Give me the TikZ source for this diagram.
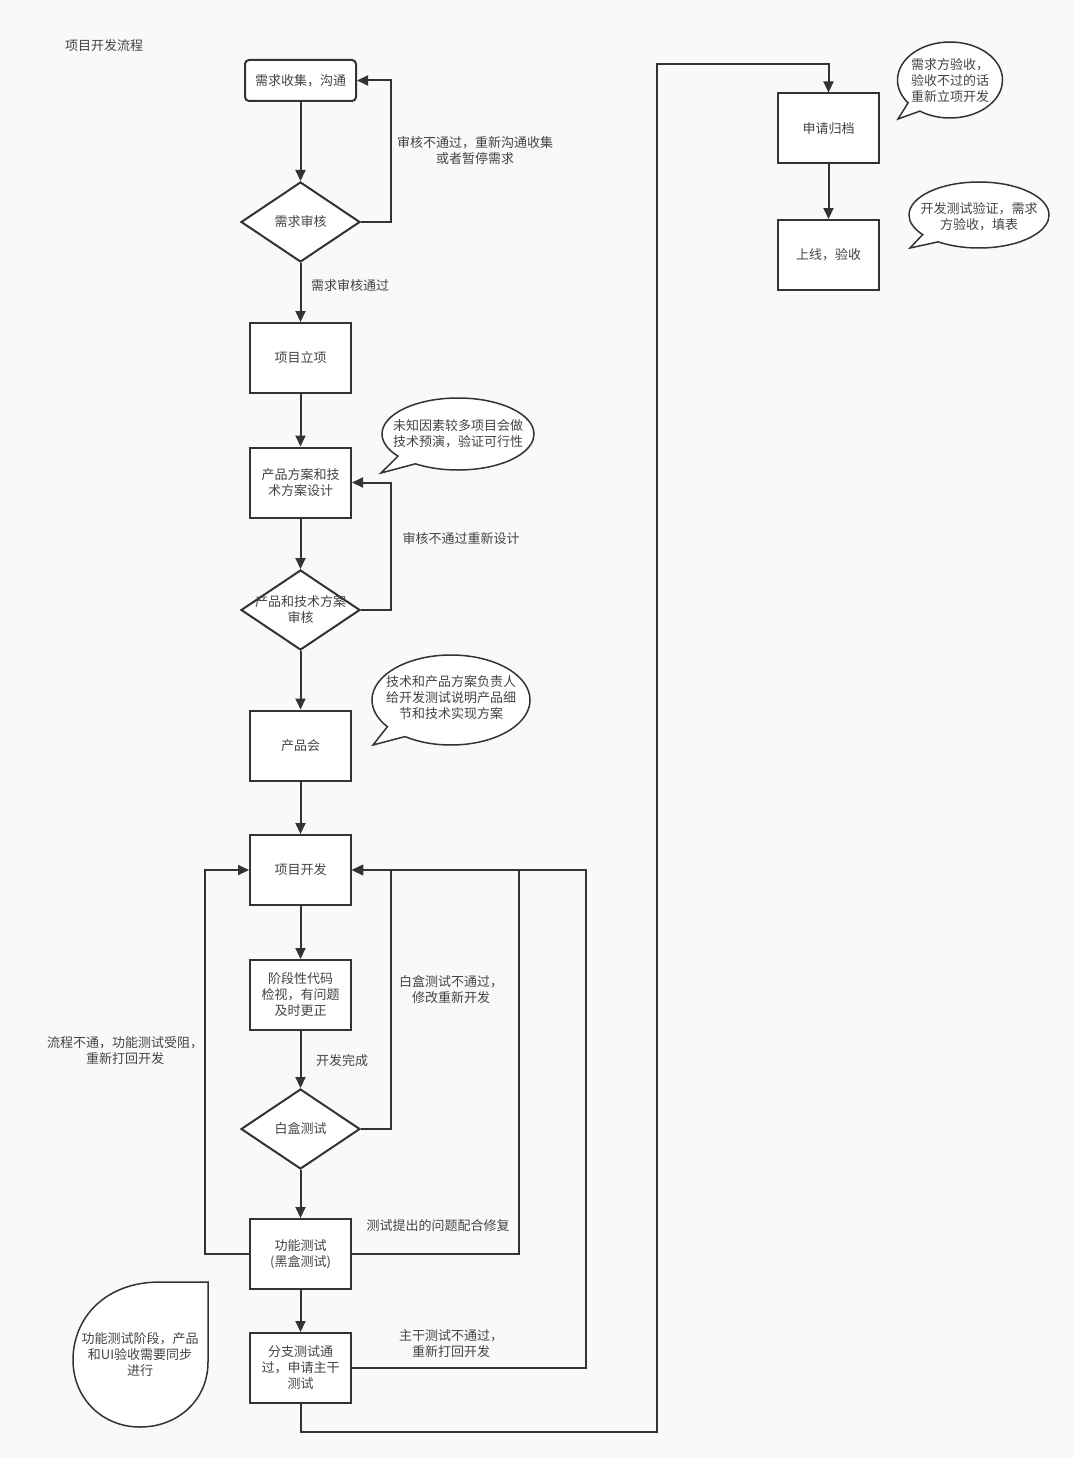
\documentclass[tikz,border=0pt]{standalone}
\usepackage{fontspec}
\setmainfont{Noto Sans CJK SC}
\usetikzlibrary{shapes.geometric,shapes.callouts,arrows.meta}
\definecolor{ln}{HTML}{333333}
\definecolor{tx}{HTML}{444444}
\definecolor{bg}{HTML}{F9F9F9}
\begin{document}
\begin{tikzpicture}[x=1pt,y=-1pt,
 every node/.style={font=\fontsize{13}{16}\selectfont, text=tx},
 box/.style={draw=ln, line width=2pt, fill=white, minimum width=101pt, minimum height=70pt, align=center, inner sep=2pt},
 dia/.style={diamond, draw=ln, line width=2pt, fill=white, minimum width=119pt, minimum height=80pt, inner sep=0pt},
 bub/.style={ellipse callout, draw=ln, line width=1.5pt, fill=white, inner sep=0pt, callout pointer arc=18},
 lbl/.style={align=center},
 arr/.style={draw=ln, line width=2pt, -{Triangle[length=11pt,width=10pt]}}
]
\fill[bg] (0,0) rectangle (1074,1458);
\useasboundingbox (0,0) rectangle (1074,1458);

\node[lbl] (title) at (104,46) {项目开发流程};

% main column
\node[box, minimum width=111pt, minimum height=41pt, rounded corners=4pt] (b1) at (300.5,80.5) {需求收集，沟通};
\node[dia] (d1) at (300.5,222) {};
\node[lbl] (d1t) at (d1) {需求审核};
\node[box] (b2) at (300.5,358) {项目立项};
\node[box] (b3) at (300.5,482.5) {产品方案和技\\术方案设计};
\node[dia] (d2) at (300.5,610) {};
\node[lbl] (d2t) at (d2) {产品和技术方案\\审核};
\node[box] (b4) at (300.5,745.5) {产品会};
\node[box] (b5) at (300.5,870) {项目开发};
\node[box] (b6) at (300.5,995) {阶段性代码\\检视，有问题\\及时更正};
\node[dia] (d3) at (300.5,1129) {};
\node[lbl] (d3t) at (d3) {白盒测试};
\node[box] (b7) at (300.5,1254) {功能测试\\(黑盒测试)};
\node[box] (b8) at (300.5,1368) {分支测试通\\过，申请主干\\测试};
\node[box] (b9) at (828.5,128.5) {申请归档};
\node[box] (b10) at (828.5,255) {上线，验收};

% callouts
\node[bub, minimum width=152pt, minimum height=72pt, callout absolute pointer={(381,473)}] (c1) at (458,434) {};
\node[lbl] (c1t) at (c1) {未知因素较多项目会做\\技术预演，验证可行性};
\node[bub, minimum width=158pt, minimum height=90pt, callout absolute pointer={(373,745)}] (c2) at (451,700) {};
\node[lbl] (c2t) at (451,698) {技术和产品方案负责人\\给开发测试说明产品细\\节和技术实现方案};
\node[bub, minimum width=105pt, minimum height=76pt, callout absolute pointer={(898,119)}] (c3) at (950,80) {};
\node[lbl] (c3t) at (950,81) {需求方验收，\\验收不过的话\\重新立项开发};
\node[bub, minimum width=140pt, minimum height=66pt, callout absolute pointer={(910,248)}] (c4) at (979,215) {};
\node[lbl] (c4t) at (979,217) {开发测试验证，需求\\方验收，填表};

% bottom-left note
\draw[ln, line width=1.5pt, fill=white] (208,1282) -- (208,1362) .. controls (208,1400) and (178,1427) .. (140,1427) .. controls (102,1427) and (73,1398) .. (73,1360) .. controls (73,1318) and (105,1282) .. (160,1282) -- cycle;
\node[lbl] (n1t) at (140,1355) {功能测试阶段，产品\\和UI验收需要同步\\进行};

% connectors
\draw[arr] (b1) -- (d1);
\draw[arr] (d1.east) -- ++(30,0) |- (b1.east);
\draw[arr] (d1) -- (b2);
\draw[arr] (b2) -- (b3);
\draw[arr] (b3) -- (d2);
\draw[arr] (d2.east) -- ++(30,0) |- (b3.east);
\draw[arr] (d2) -- (b4);
\draw[arr] (b4) -- (b5);
\draw[arr] (b5) -- (b6);
\draw[arr] (b6) -- (d3);
\draw[arr] (d3.east) -- ++(30,0) |- (b5.east);
\draw[arr] (d3) -- (b7);
\draw[arr] (b7.east) -- ++(167,0) |- (b5.east);
\draw[arr] (b7.west) -- ++(-44,0) |- (b5.west);
\draw[arr] (b7) -- (b8);
\draw[arr] (b8.east) -- ++(234,0) |- (b5.east);
\coordinate (k1) at (657,1432);
\coordinate (k2) at (657,64);
\draw[arr] (b8.south) |- (k1) -- (k2) -| (b9.north);
\draw[arr] (b9) -- (b10);

% labels
\node[lbl] (l1) at (475,151) {审核不通过，重新沟通收集\\或者暂停需求};
\node[lbl] (l2) at (350,286) {需求审核通过};
\node[lbl] (l3) at (461,539) {审核不通过重新设计};
\node[lbl] (l4) at (342,1061) {开发完成};
\node[lbl] (l5) at (451,990) {白盒测试不通过，\\修改重新开发};
\node[lbl] (l6) at (125,1051) {流程不通，功能测试受阻，\\重新打回开发};
\node[lbl] (l7) at (438,1226) {测试提出的问题配合修复};
\node[lbl] (l8) at (451,1344) {主干测试不通过，\\重新打回开发};
\end{tikzpicture}
\end{document}
